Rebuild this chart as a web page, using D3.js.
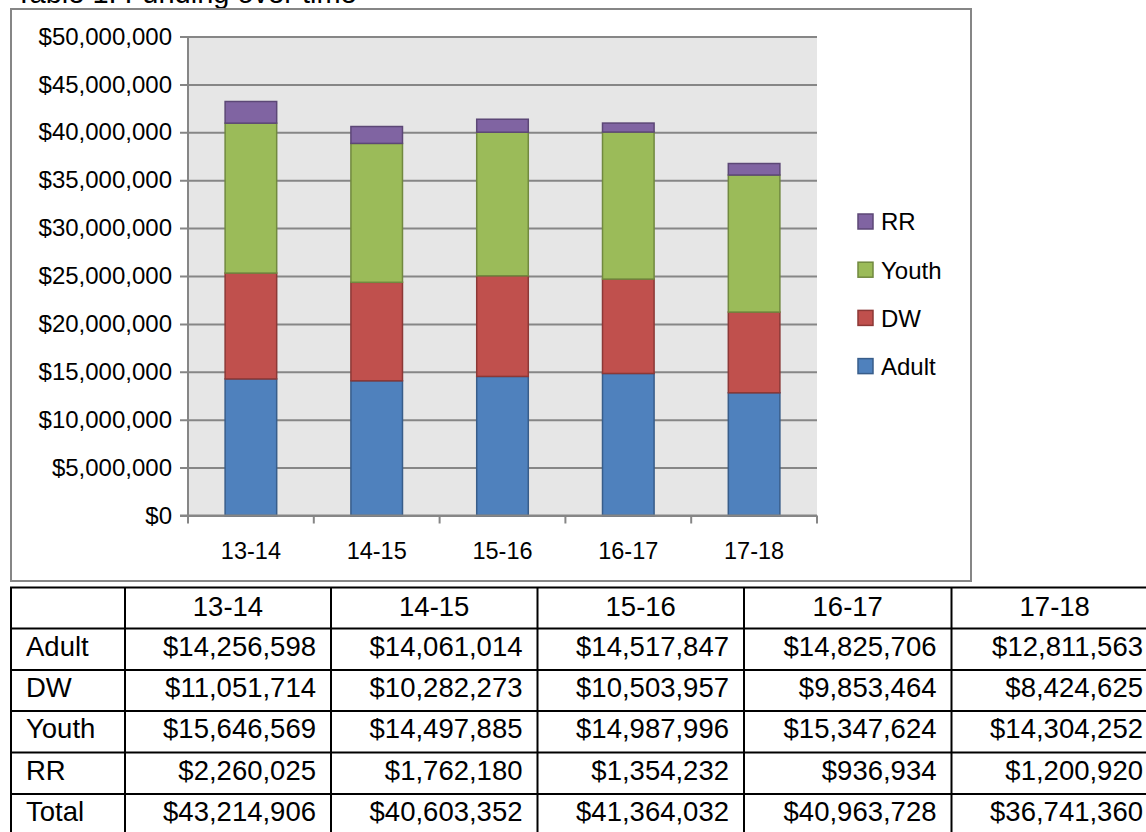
<!DOCTYPE html>
<html>
<head>
<meta charset="utf-8">
<script src="https://cdn.jsdelivr.net/npm/d3@7"></script>
<style>
  body { margin: 0; background: #fff; }
  svg { display: block; font-family: "Liberation Sans", Arial, sans-serif; }
</style>
</head>
<body>
<div id="chart"></div>
<script>
// data
var years = ["13-14", "14-15", "15-16", "16-17", "17-18"];
var adult = [14256598, 14061014, 14517847, 14825706, 12811563];
var dw = [11051714, 10282273, 10503957, 9853464, 8424625];
var youth = [15646569, 14497885, 14987996, 15347624, 14304252];
var rr = [2260025, 1762180, 1354232, 936934, 1200920];
var totals = [43214906, 40603352, 41364032, 40963728, 36741360];
var seriesNames = ["Adult", "DW", "Youth", "RR"];
var yTicks = [0, 5000000, 10000000, 15000000, 20000000, 25000000, 30000000, 35000000, 40000000, 45000000, 50000000];

var colors = { Adult: "#4F81BD", DW: "#C0504D", Youth: "#9BBB59", RR: "#8064A2" };
var strokes = { Adult: "#385D8A", DW: "#8C3836", Youth: "#71893F", RR: "#5C4776" };

var W = 1146, H = 832;
var svg = d3.select("#chart").append("svg")
  .attr("width", W)
  .attr("height", H);

// title (cut off at top in the original)
svg.append("text")
  .attr("x", 15)
  .attr("y", 3)
  .style("font-size", "29px")
  .attr("fill", "#000")
  .text("Table 1: Funding over time");

// chart frame
svg.append("rect")
  .attr("x", 11).attr("y", 9)
  .attr("width", 960).attr("height", 572)
  .attr("fill", "#fff")
  .attr("stroke", "#868686")
  .attr("stroke-width", 2);

var plot = { left: 188, right: 817, top: 36.5, bottom: 515.5 };

// SCALES
var x = d3.scaleBand().domain(years).range([plot.left, plot.right]).padding(0);
var y = d3.scaleLinear().domain([0, 50000000]).range([plot.bottom, plot.top]);
var barW = x.bandwidth() * 0.41;

// plot background
svg.append("rect")
  .attr("x", plot.left).attr("y", plot.top)
  .attr("width", plot.right - plot.left)
  .attr("height", plot.bottom - plot.top)
  .attr("fill", "#E6E6E6");

// y axis with gridlines
var fmt = d3.format("$,");
var yAxis = d3.axisLeft(y)
  .tickValues(yTicks)
  .tickSize(-(plot.right - plot.left))
  .tickPadding(16)
  .tickFormat(fmt);

var gY = svg.append("g")
  .attr("transform", "translate(" + plot.left + ",0)")
  .call(yAxis);
gY.select(".domain").remove();
gY.selectAll(".tick line")
  .attr("x1", -8)
  .attr("stroke", "#868686")
  .attr("stroke-width", 2);
gY.selectAll(".tick text")
  .style("font-size", "24px")
  .style("font-family", "'Liberation Sans', Arial, sans-serif")
  .attr("fill", "#000");

// left axis line
svg.append("line")
  .attr("x1", plot.left).attr("x2", plot.left)
  .attr("y1", plot.top).attr("y2", plot.bottom)
  .attr("stroke", "#868686").attr("stroke-width", 2);

// stack the series
var rows = years.map(function(yr, i) {
  return { year: yr, Adult: adult[i], DW: dw[i], Youth: youth[i], RR: rr[i] };
});
var stacked = d3.stack().keys(seriesNames)(rows);

svg.append("g").selectAll("g")
  .data(stacked)
  .enter().append("g")
  .attr("fill", function(s) { return colors[s.key]; })
  .attr("stroke", function(s) { return strokes[s.key]; })
  .attr("stroke-width", 1.5)
  .selectAll("rect")
  .data(function(s) { return s; })
  .enter().append("rect")
  .attr("x", function(d) { return x(d.data.year) + (x.bandwidth() - barW) / 2; })
  .attr("width", barW)
  .attr("y", function(d) { return y(d[1]); })
  .attr("height", function(d) { return y(d[0]) - y(d[1]); });

// x axis: line + ticks at category boundaries
var gX = svg.append("g");
gX.append("line")
  .attr("x1", plot.left - 8).attr("x2", plot.right)
  .attr("y1", plot.bottom).attr("y2", plot.bottom)
  .attr("stroke", "#868686").attr("stroke-width", 2);
var bounds = years.map(function(c) { return x(c); }).concat([plot.right]);
gX.selectAll(".xt")
  .data(bounds)
  .enter().append("line")
  .attr("x1", function(d) { return d; }).attr("x2", function(d) { return d; })
  .attr("y1", plot.bottom).attr("y2", plot.bottom + 8)
  .attr("stroke", "#868686").attr("stroke-width", 2);
gX.selectAll(".xl")
  .data(years)
  .enter().append("text")
  .attr("x", function(d) { return x(d) + x.bandwidth() / 2; })
  .attr("y", 559)
  .attr("text-anchor", "middle")
  .style("font-size", "23.5px")
  .text(function(d) { return d; });

// legend (reverse order, RR on top)
var legendNames = seriesNames.slice().reverse();
var legend = svg.append("g").selectAll("g")
  .data(legendNames)
  .enter().append("g")
  .attr("transform", function(d, i) { return "translate(858," + (222 + i * 48.2) + ")"; });
legend.append("rect")
  .attr("x", 0).attr("y", -8)
  .attr("width", 15).attr("height", 15)
  .attr("fill", function(d) { return colors[d]; })
  .attr("stroke", function(d) { return strokes[d]; })
  .attr("stroke-width", 1.5);
legend.append("text")
  .attr("x", 23)
  .attr("y", 0)
  .attr("dy", "0.35em")
  .style("font-size", "24px")
  .text(function(d) { return d; });

// data table below the chart
var colX = [11, 125, 331, 537.5, 744, 951.5, 1158];
var rowY = [587.5, 628.5, 670, 711, 752.5, 794, 835.5];
var tableRows = [
  { label: "Adult", vals: adult },
  { label: "DW", vals: dw },
  { label: "Youth", vals: youth },
  { label: "RR", vals: rr },
  { label: "Total", vals: totals }
];
var tbl = svg.append("g").style("font-size", "27.5px");

// header
tbl.selectAll(".th")
  .data(years)
  .enter().append("text")
  .attr("x", function(d, i) { return (colX[i + 1] + colX[i + 2]) / 2; })
  .attr("y", rowY[0] + 28)
  .attr("text-anchor", "middle")
  .text(function(d) { return d; });

var tr = tbl.selectAll(".tr")
  .data(tableRows)
  .enter().append("g")
  .attr("transform", function(d, i) { return "translate(0," + rowY[i + 1] + ")"; });
tr.append("text")
  .attr("x", 26)
  .attr("y", 27)
  .text(function(d) { return d.label; });
tr.selectAll(".td")
  .data(function(d) { return d.vals; })
  .enter().append("text")
  .attr("x", function(d, i) { return colX[i + 2] - 15; })
  .attr("y", 27)
  .attr("text-anchor", "end")
  .text(function(d) { return fmt(d); });

// grid lines of the table
tbl.selectAll(".hl")
  .data(rowY)
  .enter().append("line")
  .attr("x1", colX[0] - 1).attr("x2", W)
  .attr("y1", function(d) { return d; }).attr("y2", function(d) { return d; })
  .attr("stroke", "#000").attr("stroke-width", 2);
tbl.selectAll(".vl")
  .data(colX)
  .enter().append("line")
  .attr("x1", function(d) { return d; }).attr("x2", function(d) { return d; })
  .attr("y1", rowY[0]).attr("y2", H)
  .attr("stroke", "#000").attr("stroke-width", 2);
</script>
</body>
</html>
